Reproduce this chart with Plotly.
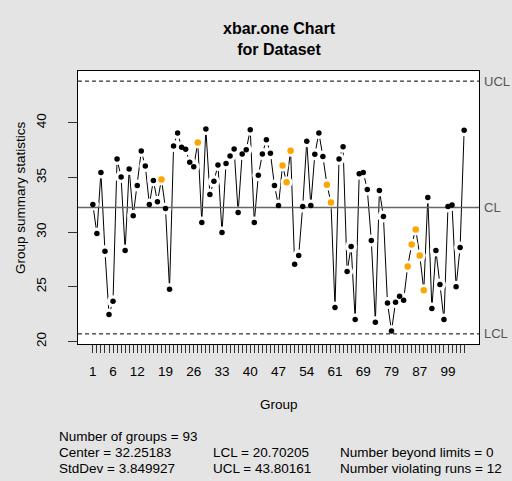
import plotly.graph_objects as go

# ---- data ----
group_names = [
    "1", "2", "3", "4", "5", "6", "7", "8", "9", "10",
    "11", "12", "13", "14", "15", "16", "17", "18", "19", "20",
    "21", "22", "23", "24", "25", "26", "27", "28", "29", "30",
    "31", "32", "33", "34", "35", "36", "37", "38", "39", "40",
    "41", "42", "43", "44", "45", "46", "47", "48", "49", "50",
    "51", "52", "53", "54", "55", "56", "57", "58", "59", "60",
    "61", "62", "63", "64", "65", "67", "68", "69", "70", "71",
    "72", "74", "76", "77", "79", "80", "81", "82", "84", "85",
    "86", "87", "88", "89", "90", "92", "94", "97", "99", "100",
    "101", "103", "104",
]
stats = [
    32.53, 29.88, 35.46, 28.26, 22.47, 23.69, 36.68, 35.03, 28.33, 35.76,
    31.49, 34.27, 37.41, 36.04, 32.53, 34.73, 32.78, 34.82, 32.17, 24.78,
    37.87, 39.06, 37.75, 37.57, 36.38, 35.98, 38.20, 30.89, 39.42, 33.45,
    34.64, 36.13, 29.97, 36.28, 36.95, 37.59, 31.80, 37.14, 37.53, 39.36,
    30.89, 35.19, 37.14, 38.45, 37.20, 34.27, 32.44, 36.10, 34.55, 37.44,
    27.07, 27.87, 32.35, 38.30, 32.44, 37.11, 39.06, 36.92, 34.33, 32.72,
    23.11, 36.68, 37.81, 26.40, 28.69, 22.01, 35.33, 35.46, 33.90, 29.24,
    21.77, 33.81, 31.44, 23.53, 20.97, 23.60, 24.14, 23.78, 26.86, 28.87,
    30.25, 27.87, 24.69, 33.17, 23.02, 28.33, 25.21, 22.01, 32.35, 32.47,
    25.00, 28.60, 39.31,
]
violating = [17, 26, 47, 48, 49, 58, 59, 78, 79, 80, 81, 82]  # 0-based indices
tick_labels = ["1", "6", "12", "19", "26", "33", "40", "47", "54", "61", "69", "79", "87", "99"]
y_ticks = [20, 25, 30, 35, 40]

center = 32.25183
std_dev = 3.849927
lcl = 20.70205
ucl = 43.80161
n_groups = 93
n_beyond = 0
n_violating = 12

# ---- derived ----
xs = list(range(1, len(stats) + 1))
vx = [xs[i] for i in violating]
vy = [stats[i] for i in violating]
nx = [xs[i] for i in range(len(stats)) if i not in violating]
ny = [stats[i] for i in range(len(stats)) if i not in violating]
ticktext = [n if n in tick_labels else "" for n in group_names]

n = len(stats)
xpad = (n - 1) * 0.04
ymin = min(min(stats), lcl)
ymax = max(max(stats), ucl)
ypad = (ymax - ymin) * 0.04
x0, x1 = 1 - xpad, n + xpad

FONT = "Liberation Sans, Arial, Helvetica, sans-serif"
BG = "#e4e4e4"
FS = 13.5

fig = go.Figure()
# connecting line
fig.add_trace(go.Scatter(x=xs, y=stats, mode="lines",
                         line=dict(color="black", width=1), hoverinfo="skip"))
# white halos produce gaps in the line around points (R type="b")
fig.add_trace(go.Scatter(x=xs, y=stats, mode="markers",
                         marker=dict(color="white", size=12, line=dict(width=0)),
                         hoverinfo="skip"))
# control lines
fig.add_trace(go.Scatter(x=[x0, x1], y=[center, center], mode="lines",
                         line=dict(color="#666666", width=1.6)))
fig.add_trace(go.Scatter(x=[x0, x1], y=[ucl, ucl], mode="lines",
                         line=dict(color="black", width=1, dash="4px,3px")))
fig.add_trace(go.Scatter(x=[x0, x1], y=[lcl, lcl], mode="lines",
                         line=dict(color="black", width=1, dash="4px,3px")))
# points
fig.add_trace(go.Scatter(x=nx, y=ny, mode="markers",
                         marker=dict(color="black", size=5.5, line=dict(width=0))))
fig.add_trace(go.Scatter(x=vx, y=vy, mode="markers",
                         marker=dict(color="orange", size=6.5, line=dict(width=0))))

annotations = []
for lab, val in (("UCL", ucl), ("CL", center), ("LCL", lcl)):
    annotations.append(dict(x=1, xref="paper", xshift=3, y=val, yref="y",
                            text=lab, showarrow=False, xanchor="left", yanchor="middle",
                            font=dict(family=FONT, size=13, color="#555555")))

W, H = 512, 481
L, R, T, B = 78, 33, 71, 137
pw, ph = W - L - R, H - T - B


def px_x(p):
    return (p - L) / pw


def px_y(p):
    return (H - B - p) / ph


lines = [
    (57, 436, f"Number of groups = {n_groups}"),
    (57, 452, f"Center = {center}"),
    (57, 468, f"StdDev = {std_dev}"),
    (211, 452, f"LCL = {lcl}"),
    (211, 468, f"UCL = {ucl}"),
    (338, 452, f"Number beyond limits = {n_beyond}"),
    (338, 468, f"Number violating runs = {n_violating}"),
]
for xp, yp, t in lines:
    annotations.append(dict(x=px_x(xp), y=px_y(yp), xref="paper", yref="paper",
                            text=t, showarrow=False, xanchor="left", yanchor="middle",
                            font=dict(family=FONT, size=FS, color="black")))

annotations.append(dict(x=0.5, y=px_y(404), xref="paper", yref="paper", text="Group",
                        showarrow=False, xanchor="center", yanchor="middle",
                        font=dict(family=FONT, size=FS, color="black")))
annotations.append(dict(x=px_x(20), y=px_y(197), xref="paper", yref="paper",
                        text="Group summary statistics", textangle=-90,
                        showarrow=False, xanchor="center", yanchor="middle",
                        font=dict(family=FONT, size=FS, color="black")))

fig.update_layout(
    width=W, height=H,
    margin=dict(l=L, r=R, t=T, b=B),
    paper_bgcolor=BG, plot_bgcolor="white",
    showlegend=False,
    title=dict(text="<b>xbar.one Chart<br>for Dataset</b>", x=px_x(279), xref="paper",
               xanchor="center", y=(H - 34) / H, yref="container", yanchor="middle",
               font=dict(family=FONT, size=16, color="black")),
    font=dict(family=FONT, size=FS, color="black"),
    annotations=annotations,
    xaxis=dict(range=[x0, x1], tickmode="array", tickvals=xs, ticktext=ticktext,
               ticks="outside", ticklen=8, tickwidth=1, tickcolor="#333333",
               showgrid=False, zeroline=False, showline=True, mirror=True,
               linecolor="black", linewidth=1.2, ticklabelstandoff=7,
               tickfont=dict(family=FONT, size=FS, color="black")),
    yaxis=dict(range=[ymin - ypad, ymax + ypad], tickmode="array", tickvals=y_ticks,
               ticks="outside", ticklen=9, tickwidth=1, tickcolor="#333333",
               tickangle=-90, showgrid=False, zeroline=False, showline=True,
               mirror=True, linecolor="black", linewidth=1.2, ticklabelstandoff=17,
               tickfont=dict(family=FONT, size=FS, color="black")),
)

fig.write_html("out.html", config={"displayModeBar": False},
               post_script="document.body.style.margin='0px';")
